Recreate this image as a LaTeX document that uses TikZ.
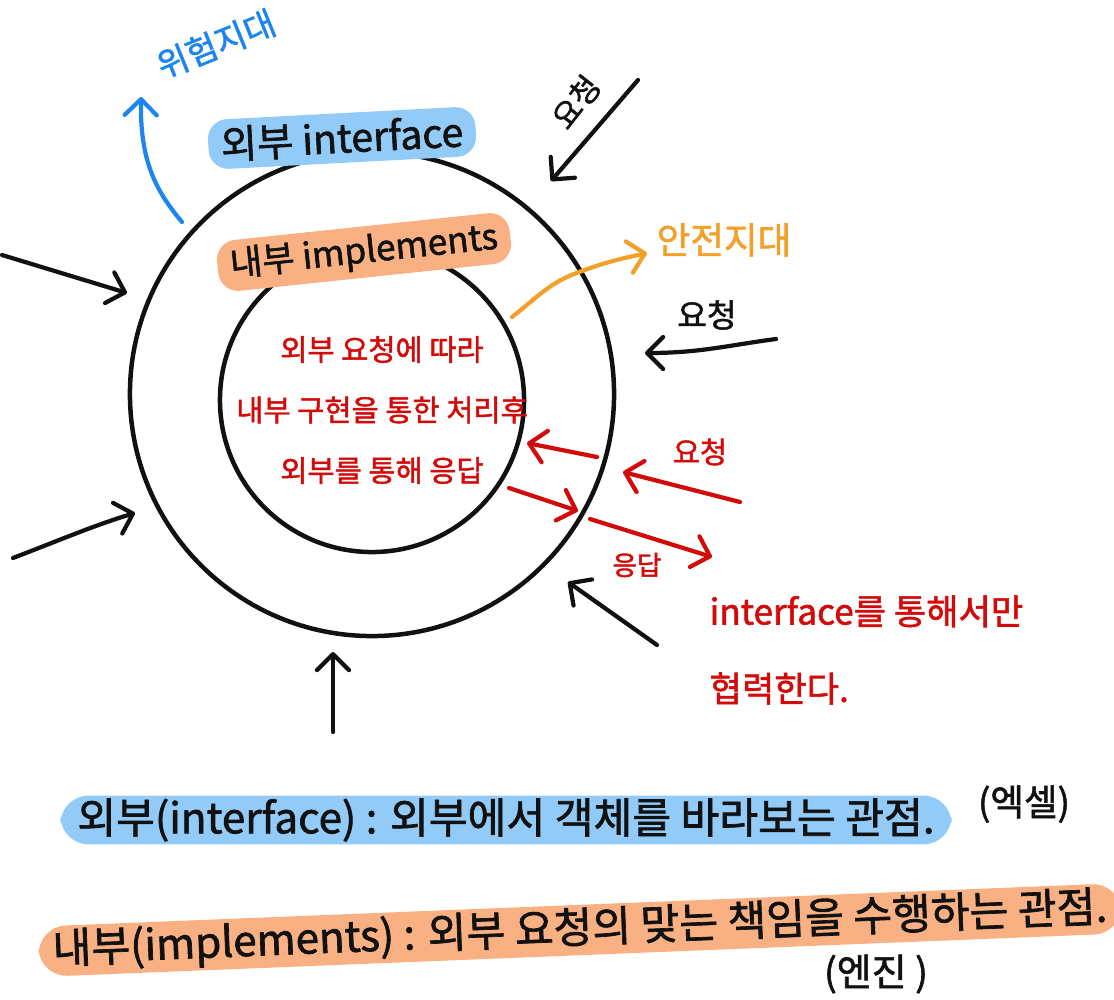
\documentclass[tikz,border=0pt]{standalone}
\usepackage{fontspec}
\setmainfont{Noto Sans CJK KR}[BoldFont={Noto Sans CJK KR}, BoldFeatures={FakeBold=1.6}]
\usetikzlibrary{positioning,arrows.meta}
\definecolor{inkblk}{HTML}{111111}
\definecolor{inkred}{HTML}{D20A0A}
\definecolor{inkblue}{HTML}{1C86EE}
\definecolor{inkorng}{HTML}{F3A02B}
\definecolor{hlblue}{HTML}{93CBF8}
\definecolor{hlorng}{HTML}{F9B184}
\tikzset{
  ring/.style={circle, draw=inkblk, line width=3.2pt, inner sep=0pt},
  fsz/.style={font=\fontsize{#1}{#1}\selectfont\bfseries},
  hand/.style={inner sep=1pt, text=inkblk},
  hlb/.style={hand, fill=hlblue, rounded corners=14pt, inner xsep=9pt, inner ysep=5pt},
  hlo/.style={hand, fill=hlorng, rounded corners=14pt, inner xsep=9pt, inner ysep=5pt},
  redtxt/.style={hand, text=inkred},
  arr/.style={-{Straight Barb[length=4mm,width=8mm,round]}, line width=3pt,
              line cap=round, line join=round, draw=inkblk},
  arrr/.style={arr, draw=inkred},
  arrb/.style={arr, draw=inkblue},
  arro/.style={arr, draw=inkorng},
}

\begin{document}
\begin{tikzpicture}[x=0.025cm, y=-0.025cm]
  \useasboundingbox (0,0) rectangle (1114,1000);
  \node[ring, minimum size=12.1cm] (outer) at (372,394) {};
  \node[ring, minimum size=7.6cm] (inner) at (372,400) {};
  \node[hlb, fsz=28, rotate=3] (outerlbl) at (342,138) {외부 interface};
  \node[hlo, fsz=25, rotate=6] (innerlbl) at (364,252) {내부 implements};
  \node[redtxt, align=center, font=\fontsize{21}{43}\selectfont\bfseries] (core) at (382,410)
    {외부 요청에 따라\\내부 구현을 통한 처리후\\외부를 통해 응답};
  \node[hand, fsz=24, text=inkblue, rotate=22] (danger) at (216,44) {위험지대};
  \node[hand, fsz=26, text=inkorng] (safe) at (724,240) {안전지대};
  \node[hand, fsz=22, rotate=52] (reqtr) at (576,102) {요청};
  \node[hand, fsz=23] (reqr) at (707,315) {요청};
  \node[redtxt, fsz=21] (reqred) at (700,452) {요청};
  \node[redtxt, fsz=19] (resred) at (637,565) {응답};
  \node[redtxt, anchor=west, align=left, font=\fontsize{25}{55}\selectfont\bfseries] (only) at (708,650)
    {interface를 통해서만\\협력한다.};
  \node[hlb, fsz=30, rounded corners=20pt, inner xsep=12pt, inner ysep=2pt] (defout) at (506,820)
    {외부(interface) : 외부에서 객체를 바라보는 관점.};
  \node[hand, fsz=26] (excel) at (1024,804) {(엑셀)};
  \node[hlo, fsz=30, rounded corners=20pt, inner xsep=10pt, inner ysep=2pt, rotate=2.3] (defin) at (580,930)
    {내부(implements) : 외부 요청의 맞는 책임을 수행하는 관점.};
  \node[hand, fsz=27] (engine) at (876,974) {(엔진 )};

  \coordinate (lta) at (2,255);   \coordinate (ltb) at (127,293);
  \coordinate (lba) at (13,558);  \coordinate (lbb) at (135,513);
  \coordinate (bta) at (333,732); \coordinate (btb) at (333,652);
  \coordinate (bra) at (657,645); \coordinate (brb) at (568,582);
  \coordinate (tra) at (638,80);  \coordinate (trb) at (551,181);
  \coordinate (rra) at (776,339); \coordinate (rrb) at (645,353);
  \coordinate (qa) at (740,502);  \coordinate (qb) at (623,472);
  \coordinate (ina) at (597,457); \coordinate (inb) at (527,443);
  \coordinate (outa) at (509,488); \coordinate (outb) at (578,511);
  \coordinate (ra) at (590,519);  \coordinate (rb) at (712,557);
  \coordinate (dga) at (182,222); \coordinate (dgb) at (141,97);
  \coordinate (sfa) at (512,317); \coordinate (sfb) at (647,253);

  \foreach \s/\e in {lta/ltb, bta/btb, bra/brb, tra/trb}
    \draw[arr] (\s) -- (\e);
  \draw[arr] (lba) .. controls (60,540) and (95,525) .. (lbb);
  \draw[arr] (rra) .. controls (730,345) and (700,353) .. (rrb);
  \foreach \s/\e in {qa/qb, ina/inb, outa/outb, ra/rb}
    \draw[arrr] (\s) -- (\e);
  \draw[arrb] (dga) .. controls (155,190) and (140,160) .. (dgb);
  \draw[arro] (sfa) .. controls (540,295) and (550,282) .. (582,271)
    .. controls (612,260) and (625,258) .. (sfb);
\end{tikzpicture}
\end{document}
